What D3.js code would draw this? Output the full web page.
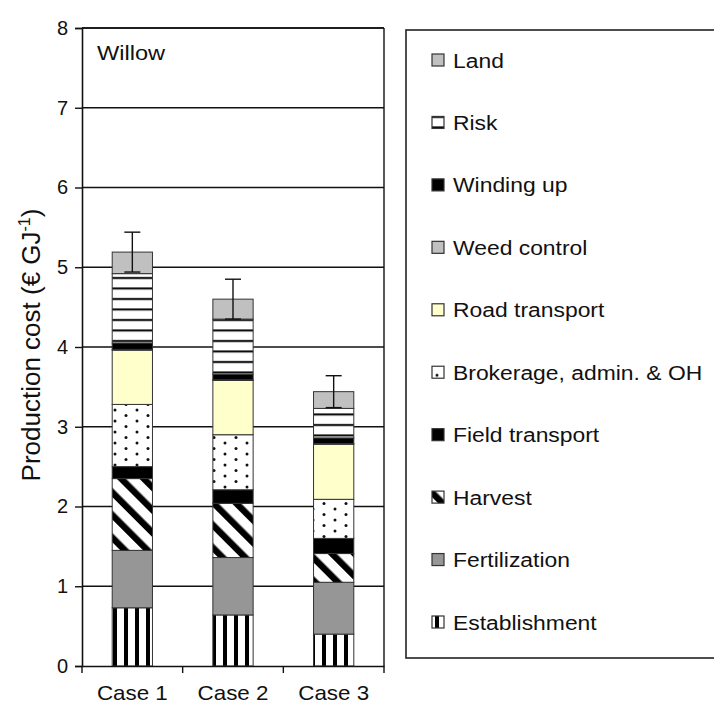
<!DOCTYPE html>
<html>
<head>
<meta charset="utf-8">
<script src="https://cdn.jsdelivr.net/npm/d3@7"></script>
<style>
  html, body { margin: 0; padding: 0; background: #fff; }
  svg { display: block; font-family: "Liberation Sans", Arial, sans-serif; }
</style>
</head>
<body>
<svg id="chart" width="714" height="707"></svg>
<script>
// Production cost components for willow (€ GJ-1), stacked bottom to top
const cases = ["Case 1", "Case 2", "Case 3"];
const components = ["Establishment", "Fertilization", "Harvest", "Field transport",
  "Brokerage, admin. & OH", "Road transport", "Weed control", "Winding up", "Risk", "Land"];
const establishment = [0.73, 0.64, 0.40];
const fertilization = [0.72, 0.72, 0.65];
const harvest       = [0.90, 0.68, 0.36];
const fieldTransport = [0.15, 0.17, 0.19];
const brokerage     = [0.78, 0.69, 0.49];
const roadTransport = [0.68, 0.68, 0.69];
const weedControl   = [0.01, 0.01, 0.01];
const windingUp     = [0.08, 0.07, 0.07];
const risk          = [0.87, 0.69, 0.37];
const land          = [0.27, 0.25, 0.21];
const errors        = [0.25, 0.25, 0.20];
const yTicks = [0, 1, 2, 3, 4, 5, 6, 7, 8];

const series = [establishment, fertilization, harvest, fieldTransport, brokerage,
  roadTransport, weedControl, windingUp, risk, land];

const rows = cases.map((c, i) => {
  const r = { case: c };
  components.forEach((k, j) => { r[k] = series[j][i]; });
  return r;
});

const svg = d3.select("#chart");
const defs = svg.append("defs");
const ink = "#111";

// Fill patterns
function pat(id, w, h, transform) {
  const p = defs.append("pattern").attr("id", id)
    .attr("patternUnits", "userSpaceOnUse").attr("width", w).attr("height", h);
  if (transform) p.attr("patternTransform", transform);
  p.append("rect").attr("width", w).attr("height", h).attr("fill", "#fff");
  return p;
}
pat("p-estab", 11, 11).append("rect").attr("x", 3).attr("width", 4).attr("height", 11).attr("fill", "#000");
pat("p-harvest", 16, 16, "rotate(-45)").append("rect").attr("x", 0).attr("width", 6.5).attr("height", 16).attr("fill", "#000");
pat("p-risk", 10, 10.5).append("rect").attr("y", 4).attr("width", 10).attr("height", 2).attr("fill", "#000");
const pd = pat("p-dots", 22, 11);
pd.append("circle").attr("cx", 5).attr("cy", 3).attr("r", 1.5).attr("fill", "#111");
pd.append("circle").attr("cx", 16).attr("cy", 8.5).attr("r", 1.5).attr("fill", "#111");

const fills = {
  "Establishment": "url(#p-estab)",
  "Fertilization": "#969696",
  "Harvest": "url(#p-harvest)",
  "Field transport": "#000",
  "Brokerage, admin. & OH": "url(#p-dots)",
  "Road transport": "#ffffcc",
  "Weed control": "#c0c0c0",
  "Winding up": "#000",
  "Risk": "url(#p-risk)",
  "Land": "#c0c0c0"
};

const plotLeft = 82, plotRight = 384, plotTop = 28, plotBottom = 666;
const x = d3.scaleBand().domain(cases).range([plotLeft, plotRight]).paddingInner(0.6).paddingOuter(0.3);
const y = d3.scaleLinear().domain([0, 8]).range([plotBottom, plotTop]);

// Gridlines
svg.append("g").selectAll("line").data(yTicks.slice(1)).join("line")
  .attr("x1", plotLeft).attr("x2", plotRight)
  .attr("y1", d => y(d)).attr("y2", d => y(d))
  .attr("stroke", ink).attr("stroke-width", 1.4);
svg.append("line").attr("x1", plotRight).attr("x2", plotRight).attr("y1", plotTop).attr("y2", plotBottom)
  .attr("stroke", ink).attr("stroke-width", 1.4);

// Stacked bars
const stack = d3.stack().keys(components)(rows);
svg.append("g").selectAll("g").data(stack).join("g")
  .attr("fill", d => fills[d.key])
  .selectAll("rect").data(d => d).join("rect")
  .attr("x", d => x(d.data.case))
  .attr("width", x.bandwidth())
  .attr("y", d => y(d[1]))
  .attr("height", d => y(d[0]) - y(d[1]))
  .attr("stroke", "#333").attr("stroke-width", 1);

// Error bars on the totals
const totals = rows.map((r, i) => ({ case: r.case, total: d3.sum(components, k => r[k]), err: errors[i] }));
const eb = svg.append("g").attr("stroke", ink).attr("stroke-width", 1.4);
totals.forEach(t => {
  const cx = x(t.case) + x.bandwidth() / 2;
  eb.append("line").attr("x1", cx).attr("x2", cx).attr("y1", y(t.total + t.err)).attr("y2", y(t.total - t.err));
  eb.append("line").attr("x1", cx - 8).attr("x2", cx + 8).attr("y1", y(t.total + t.err)).attr("y2", y(t.total + t.err));
  eb.append("line").attr("x1", cx - 8).attr("x2", cx + 8).attr("y1", y(t.total - t.err)).attr("y2", y(t.total - t.err));
});

// Axes
const yAxis = d3.axisLeft(y).tickValues(yTicks).tickSize(7).tickPadding(7).tickFormat(d3.format("d"));
const gy = svg.append("g").attr("transform", `translate(${plotLeft},0)`).call(yAxis);
gy.select(".domain").attr("stroke", ink).attr("stroke-width", 1.6);
gy.selectAll(".tick line").attr("stroke", ink).attr("stroke-width", 1.4);
gy.selectAll(".tick text").attr("font-size", 20).attr("fill", ink)
  .attr("font-family", "Liberation Sans, Arial, sans-serif");

const xAxis = d3.axisBottom(x).tickSize(0).tickPadding(0);
const gx = svg.append("g").attr("transform", `translate(0,${plotBottom})`).call(xAxis);
gx.select(".domain").attr("stroke", ink).attr("stroke-width", 1.6);
gx.selectAll(".tick text").attr("font-size", 20).attr("fill", ink)
  .attr("font-family", "Liberation Sans, Arial, sans-serif")
  .attr("y", null).attr("dy", null)
  .attr("transform", "translate(0,34) scale(1.12,1)");
// category separators below the axis
const step = x.step();
svg.append("g").selectAll("line").data(d3.range(cases.length + 1)).join("line")
  .attr("x1", i => plotLeft + i * step).attr("x2", i => plotLeft + i * step)
  .attr("y1", plotBottom).attr("y2", plotBottom + 7)
  .attr("stroke", ink).attr("stroke-width", 1.4);

// Top border of plot area
svg.append("line").attr("x1", plotLeft).attr("x2", plotRight).attr("y1", plotTop).attr("y2", plotTop)
  .attr("stroke", ink).attr("stroke-width", 1.4);

// Labels
svg.append("text").attr("transform", "translate(97,60) scale(1.18,1)")
  .attr("font-size", 20).attr("fill", ink).text("Willow");
svg.append("text")
  .attr("transform", `translate(40,345) rotate(-90)`)
  .attr("text-anchor", "middle").attr("font-size", 26).attr("fill", ink)
  .call(t => {
    t.append("tspan").text("Production cost (€ GJ");
    t.append("tspan").attr("dy", -10).attr("font-size", 16).text("-1");
    t.append("tspan").attr("dy", 10).text(")");
  });

// Legend
const lg = svg.append("g");
lg.append("rect").attr("x", 406).attr("y", 30).attr("width", 330).attr("height", 628)
  .attr("fill", "#fff").attr("stroke", "#222").attr("stroke-width", 1.6);
const legendOrder = components.slice().reverse();
const ly = d3.scalePoint().domain(legendOrder).range([60, 622]);
const items = lg.selectAll("g.item").data(legendOrder).join("g").attr("class", "item")
  .attr("transform", d => `translate(432,${ly(d)})`);
items.append("rect").attr("x", 0).attr("y", -6).attr("width", 12).attr("height", 12)
  .attr("fill", d => fills[d]).attr("stroke", "#333").attr("stroke-width", 1.2);
items.append("text").attr("transform", "translate(21,0) scale(1.09,1)")
  .attr("dy", "0.36em").attr("font-size", 21).attr("fill", ink)
  .text(d => d);
</script>
</body>
</html>
